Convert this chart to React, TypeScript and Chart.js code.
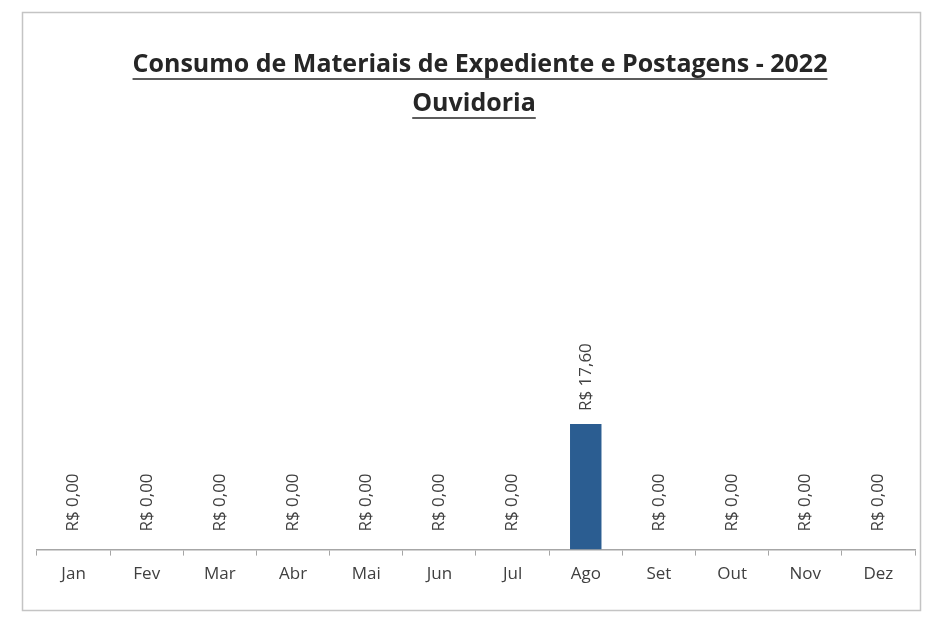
import React, { useEffect, useRef } from "react";
import { Chart, registerables } from "chart.js";

Chart.register(...registerables);

const months = ["Jan", "Fev", "Mar", "Abr", "Mai", "Jun", "Jul", "Ago", "Set", "Out", "Nov", "Dez"];
const values = [0, 0, 0, 0, 0, 0, 0, 17.6, 0, 0, 0, 0];
const titleText = "Consumo de Materiais de Expediente e Postagens - 2022";
const subtitleText = "Ouvidoria";

const fmt = (v: number) => "R$ " + v.toFixed(2).replace(".", ",");

const decorPlugin = {
  id: "decor",
  beforeDraw(chart: any) {
    const ctx = chart.ctx;
    ctx.save();
    ctx.fillStyle = "#ffffff";
    ctx.fillRect(0, 0, chart.width, chart.height);
    ctx.strokeStyle = "#c4c4c4";
    ctx.lineWidth = 1.5;
    ctx.strokeRect(22.5, 12.5, 898, 598);
    ctx.restore();
  },
  afterDraw(chart: any) {
    const ctx = chart.ctx;
    ctx.save();
    ctx.fillStyle = "#262626";
    ctx.strokeStyle = "#262626";
    ctx.textAlign = "center";
    ctx.textBaseline = "alphabetic";
    const drawU = (t: string, x: number, y: number, font: string) => {
      ctx.font = font;
      ctx.fillText(t, x, y);
      const w = ctx.measureText(t).width;
      ctx.lineWidth = 1.5;
      ctx.beginPath();
      ctx.moveTo(x - w / 2, y + 7);
      ctx.lineTo(x + w / 2, y + 7);
      ctx.stroke();
    };
    drawU(titleText, 480, 72, "bold 25px 'Open Sans'");
    drawU(subtitleText, 474, 111, "bold 25px 'Open Sans'");

    // data labels
    const meta = chart.getDatasetMeta(0);
    ctx.fillStyle = "#404040";
    ctx.font = "17px 'Open Sans'";
    ctx.textAlign = "left";
    ctx.textBaseline = "middle";
    meta.data.forEach((el: any, i: number) => {
      const gap = values[i] > 0 ? 13 : 18;
      ctx.save();
      ctx.translate(el.x, el.y - gap);
      ctx.rotate(-Math.PI / 2);
      ctx.fillText(fmt(values[i]), 0, 0);
      ctx.restore();
    });
    ctx.restore();
  },
};

export default function App() {
  const ref = useRef<HTMLCanvasElement>(null);
  useEffect(() => {
    if (!ref.current) return;
    const chart = new Chart(ref.current, {
      type: "bar",
      data: {
        labels: months,
        datasets: [
          {
            data: values,
            backgroundColor: "#2b5d91",
            categoryPercentage: 1,
            barPercentage: 0.43,
          },
        ],
      },
      options: {
        animation: false,
        responsive: false,
        layout: { padding: { top: 193, left: 37, right: 24, bottom: 30 } },
        plugins: { legend: { display: false }, tooltip: { enabled: false } },
        scales: {
          x: {
            grid: { drawOnChartArea: false, drawTicks: true, tickLength: 6, color: "#a6a6a6" },
            border: { display: true, color: "#a6a6a6", width: 1.5 },
            ticks: { color: "#404040", font: { family: "'Open Sans'", size: 17 }, padding: 8, maxRotation: 0 },
          },
          y: { display: false, min: 0, max: 50 },
        },
      },
      plugins: [decorPlugin],
    });
    return () => chart.destroy();
  }, []);
  return (
    <div style={{ position: "fixed", left: 0, top: 0, width: 939, height: 622 }}>
      <canvas ref={ref} width={939} height={622} />
    </div>
  );
}
